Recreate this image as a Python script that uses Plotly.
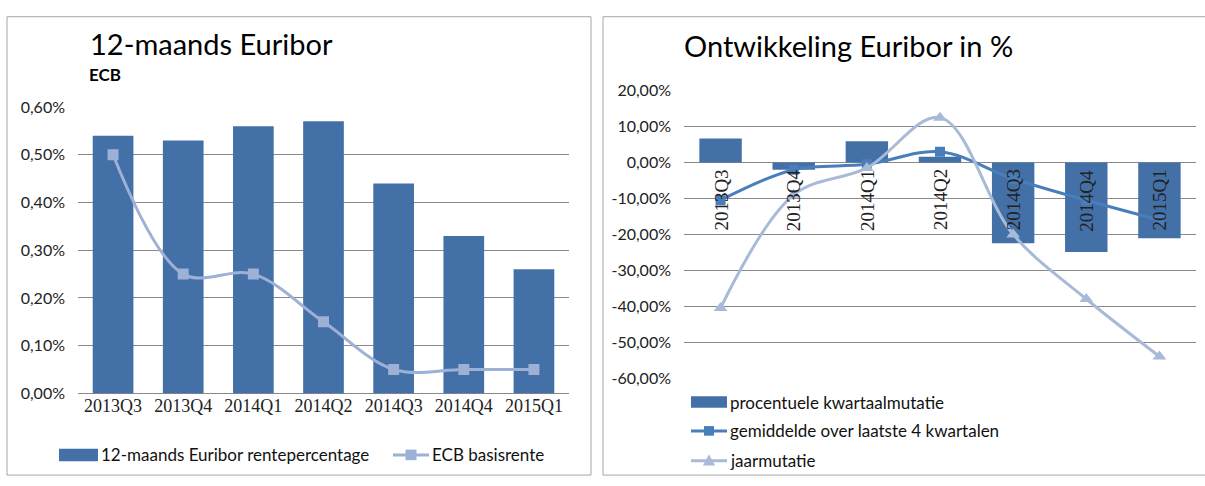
import plotly.graph_objects as go

# ---- data -------------------------------------------------------------
quarters = ["2013Q3", "2013Q4", "2014Q1", "2014Q2", "2014Q3", "2014Q4", "2015Q1"]

# left chart: rates in percent
euribor_12m = [0.54, 0.53, 0.56, 0.57, 0.44, 0.33, 0.26]
ecb_rate = [0.50, 0.25, 0.25, 0.15, 0.05, 0.05, 0.05]
left_tickvals = [0.0, 0.1, 0.2, 0.3, 0.4, 0.5, 0.6]
left_ticktext = ["0,00%", "0,10%", "0,20%", "0,30%", "0,40%", "0,50%", "0,60%"]

# right chart: changes in percent
kwartaal_mutatie = [6.7, -2.0, 5.9, 1.6, -22.5, -24.9, -21.1]
gemiddelde_4kw = [-10.5, -2.0, -0.5, 3.0, -4.5, -10.5, -16.0]
jaar_mutatie = [-40.5, -9.0, -1.5, 12.5, -20.0, -38.0, -54.0]
right_tickvals = [20, 10, 0, -10, -20, -30, -40, -50, -60]
right_ticktext = ["20,00%", "10,00%", "0,00%", "-10,00%", "-20,00%",
                  "-30,00%", "-40,00%", "-50,00%", "-60,00%"]

# ---- styling ----------------------------------------------------------
W, H = 1205, 486
BAR = "#4470A8"
ECB_LINE = "#9DB0D5"
AVG_LINE = "#4A7EBB"
JAAR_LINE = "#A8BAD8"
GRID = "#8A8A8A"
BORDER = "#A6A6A6"
SANS = "Lato, 'Open Sans', sans-serif"
SERIF = "'Liberation Serif', 'DejaVu Serif', serif"


def px(x):
    return x / W


def py(y):
    return 1 - y / H


fig = go.Figure()

# left chart
fig.add_trace(go.Bar(x=quarters, y=euribor_12m, marker_color=BAR,
                     marker_line_width=0, xaxis="x", yaxis="y",
                     showlegend=False))
fig.add_trace(go.Scatter(x=quarters, y=ecb_rate, mode="lines+markers",
                         line=dict(color=ECB_LINE, width=3, shape="spline", smoothing=1),
                         marker=dict(symbol="square", size=11, color=ECB_LINE),
                         xaxis="x", yaxis="y", showlegend=False))

# right chart
fig.add_trace(go.Bar(x=quarters, y=kwartaal_mutatie, marker_color=BAR,
                     marker_line_width=0, xaxis="x2", yaxis="y2",
                     showlegend=False))
fig.add_trace(go.Scatter(x=quarters, y=gemiddelde_4kw, mode="lines+markers",
                         line=dict(color=AVG_LINE, width=3, shape="spline", smoothing=1),
                         marker=dict(symbol="square", size=10, color=AVG_LINE),
                         xaxis="x2", yaxis="y2", showlegend=False))
fig.add_trace(go.Scatter(x=quarters, y=jaar_mutatie, mode="lines+markers",
                         line=dict(color=JAAR_LINE, width=3, shape="spline", smoothing=1),
                         marker=dict(symbol="triangle-up", size=12, color=JAAR_LINE),
                         xaxis="x2", yaxis="y2", showlegend=False))

axis_common = dict(showline=False, ticks="", fixedrange=True)

fig.update_layout(
    width=W, height=H,
    margin=dict(l=0, r=0, t=0, b=0),
    paper_bgcolor="white", plot_bgcolor="white",
    bargap=0.42,
    showlegend=False,
    xaxis=dict(domain=[px(78), px(569)], anchor="y", type="category",
               showgrid=False, zeroline=False,
               tickfont=dict(family=SERIF, size=18, color="#222"),
               **axis_common),
    yaxis=dict(domain=[py(399), py(101)], anchor="x", range=[0, 0.6],
               tickvals=left_tickvals, ticktext=left_ticktext,
               showgrid=True, gridcolor=GRID, gridwidth=1,
               zeroline=True, zerolinecolor=GRID, zerolinewidth=1,
               ticklabelstandoff=12,
               tickfont=dict(family=SANS, size=16, color="#222"),
               **axis_common),
    xaxis2=dict(domain=[px(684), px(1196)], anchor="y2", type="category",
                showgrid=False, zeroline=False, showticklabels=False,
                **axis_common),
    yaxis2=dict(domain=[py(383), py(84)], anchor="x2", range=[-60, 20],
                tickvals=right_tickvals, ticktext=right_ticktext,
                showgrid=True, gridcolor=GRID, gridwidth=1,
                zeroline=True, zerolinecolor=GRID, zerolinewidth=1,
                ticklabelstandoff=12,
                tickfont=dict(family=SANS, size=16, color="#222"),
                **axis_common),
)

shapes = [
    # panel frames
    dict(type="rect", xref="paper", yref="paper", x0=px(7), x1=px(591),
         y0=py(484), y1=py(7), line=dict(color=BORDER, width=1)),
    dict(type="rect", xref="paper", yref="paper", x0=px(603), x1=1.01,
         y0=py(484), y1=py(7), line=dict(color=BORDER, width=1)),
]
annotations = [
    dict(text="12-maands Euribor", xref="paper", yref="paper", x=px(88), y=py(35),
         xanchor="left", yanchor="middle", showarrow=False,
         font=dict(family=SANS, size=29, color="#000")),
    dict(text="<b>ECB</b>", xref="paper", yref="paper", x=px(87), y=py(67),
         xanchor="left", yanchor="middle", showarrow=False,
         font=dict(family=SANS, size=17, color="#000")),
    dict(text="Ontwikkeling Euribor in %", xref="paper", yref="paper", x=px(682), y=py(37),
         xanchor="left", yanchor="middle", showarrow=False,
         font=dict(family=SANS, size=29, color="#000")),
]

# rotated category labels sitting just under the zero line of the right chart
for q in quarters:
    annotations.append(dict(text=q, xref="x2", yref="y2", x=q, y=0,
                            xanchor="center", yanchor="top", yshift=-5,
                            textangle=-90, showarrow=False,
                            font=dict(family=SERIF, size=19, color="#222")))


def legend_text(x, y, text):
    annotations.append(dict(text=text, xref="paper", yref="paper", x=px(x), y=py(y),
                            xanchor="left", yanchor="middle", showarrow=False,
                            font=dict(family=SANS, size=17, color="#111")))


def legend_bar(x0, x1, y, h):
    shapes.append(dict(type="rect", xref="paper", yref="paper", x0=px(x0), x1=px(x1),
                       y0=py(y + h / 2), y1=py(y - h / 2), fillcolor=BAR,
                       line=dict(width=0)))


def legend_line(x0, x1, y, color, symbol, size):
    shapes.append(dict(type="line", xref="paper", yref="paper", x0=px(x0), x1=px(x1),
                       y0=py(y), y1=py(y), line=dict(color=color, width=3)))
    cx = (x0 + x1) / 2
    if symbol == "square":
        shapes.append(dict(type="rect", xref="paper", yref="paper",
                           x0=px(cx - size / 2), x1=px(cx + size / 2),
                           y0=py(y + size / 2), y1=py(y - size / 2),
                           fillcolor=color, line=dict(width=0)))
    else:
        path = "M {} {} L {} {} L {} {} Z".format(
            px(cx - size / 2), py(y + size / 2.4),
            px(cx + size / 2), py(y + size / 2.4),
            px(cx), py(y - size / 1.8))
        shapes.append(dict(type="path", xref="paper", yref="paper", path=path,
                           fillcolor=color, line=dict(width=0)))


# left legend
legend_bar(59, 98, 463, 13)
legend_text(99, 463, "12-maands Euribor rentepercentage")
legend_line(393, 429, 463, ECB_LINE, "square", 11)
legend_text(430, 463, "ECB basisrente")

# right legend
legend_bar(691, 727, 408, 12)
legend_text(728, 408, "procentuele kwartaalmutatie")
legend_line(691, 727, 438, AVG_LINE, "square", 10)
legend_text(728, 438, "gemiddelde over laatste 4 kwartalen")
legend_line(691, 727, 469, JAAR_LINE, "triangle", 12)
legend_text(728, 469, "jaarmutatie")

fig.update_layout(shapes=shapes, annotations=annotations)

fig.write_html("out.html")
